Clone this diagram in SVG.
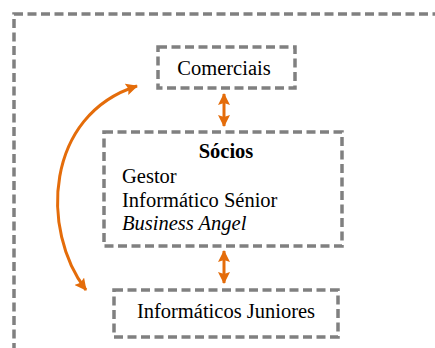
<svg xmlns="http://www.w3.org/2000/svg" width="435" height="348" viewBox="0 0 435 348">
<defs>
<style>
.box{fill:none;stroke:#808080;stroke-width:3.5;stroke-dasharray:9,4.5}
.c{stroke:#E46C0A;stroke-width:3;fill:none}
</style>
<marker id="ah" markerWidth="12" markerHeight="12" refX="11" refY="6" orient="auto-start-reverse" markerUnits="userSpaceOnUse" viewBox="0 0 12 12">
<path d="M0,0 L12,6 L0,12 L2,6 Z" fill="#E46C0A"/>
</marker>
</defs>
<rect x="14" y="14" width="440" height="350" class="box"/>
<g id="comerciais">
<rect x="158" y="47" width="137" height="41" class="box"/>
<text x="224" y="75" font-family="'Liberation Serif','Times New Roman',serif" font-size="20.5" text-anchor="middle">Comerciais</text>
</g>
<g id="socios">
<rect x="104" y="132" width="238" height="114" class="box"/>
<g font-family="'Liberation Serif','Times New Roman',serif" font-size="20.5">
<text x="226" y="158" text-anchor="middle" font-weight="bold">Sócios</text>
<text x="122" y="183">Gestor</text>
<text x="122" y="207">Informático Sénior</text>
<text x="122" y="230" font-style="italic">Business Angel</text>
</g>
</g>
<g id="juniores">
<rect x="114" y="290" width="224" height="47" class="box"/>
<text x="226" y="318" font-family="'Liberation Serif','Times New Roman',serif" font-size="20.5" text-anchor="middle">Informáticos Juniores</text>
</g>
<g id="connectors">
<line x1="224" y1="94" x2="224" y2="126" class="c" marker-start="url(#ah)" marker-end="url(#ah)"/>
<line x1="224" y1="251" x2="224" y2="283" class="c" marker-start="url(#ah)" marker-end="url(#ah)"/>
<path d="M86,290 C40,230 45,115 137,86" class="c" marker-start="url(#ah)" marker-end="url(#ah)"/>
</g>
</svg>
